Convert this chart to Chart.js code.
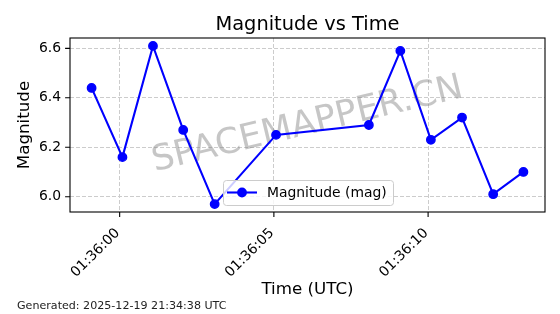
<!DOCTYPE html>
<html><head><meta charset="utf-8">
<script src="https://cdn.jsdelivr.net/npm/chart.js@4/dist/chart.umd.min.js"></script>
<style>html,body{margin:0;padding:0;background:#fff}#wrap{width:560px;height:314px;position:relative}canvas{display:block}</style>
</head><body><div id="wrap"><canvas id="c" width="560" height="314"></canvas></div>
<script>
// ---- data ----
const times = ['01:35:59.09','01:36:00.09','01:36:01.08','01:36:02.06','01:36:03.08','01:36:05.07',
               '01:36:08.08','01:36:09.10','01:36:10.09','01:36:11.10','01:36:12.11','01:36:13.09'];
const magnitudes = [6.44, 6.16, 6.61, 6.27, 5.97, 6.25, 6.29, 6.59, 6.23, 6.32, 6.01, 6.10];
const xTickLabels = ['01:36:00','01:36:05','01:36:10'];
const yTickLabels = ['6.0','6.2','6.4','6.6'];
const seriesLabel = 'Magnitude (mag)';
const chartTitle = 'Magnitude vs Time';
const xAxisTitle = 'Time (UTC)';
const yAxisTitle = 'Magnitude';
const footerText = 'Generated: 2025-12-19 21:34:38 UTC';
const watermarkText = 'SPACEMAPPER.CN';

// ---- helpers ----
function toSec(s){ const p = s.split(':'); return (+p[0])*3600 + (+p[1])*60 + (+p[2]); }
const xVals = times.map(toSec);
const xTickVals = xTickLabels.map(toSec);
const yTickVals = yTickLabels.map(Number);
const points = xVals.map((x,i)=>({x:x, y:magnitudes[i]}));
function margin(arr){ const lo=Math.min(...arr), hi=Math.max(...arr), d=(hi-lo)*0.05; return [lo-d, hi+d]; }
const [xMin,xMax] = margin(xVals);
const [yMin,yMax] = margin(magnitudes);

const FONT = '"DejaVu Sans", "Liberation Sans", sans-serif';
const BLUE = '#0000ff';

const decor = {
  id:'decor',
  beforeDatasetsDraw(chart){
    const {ctx, chartArea:a} = chart;
    ctx.save();
    ctx.translate((a.left+a.right)/2, (a.top+a.bottom)/2);
    ctx.rotate(-13.5*Math.PI/180);
    ctx.font = '35.5px ' + FONT;
    ctx.fillStyle = 'rgba(128,128,128,0.45)';
    ctx.textAlign = 'center';
    ctx.textBaseline = 'middle';
    ctx.fillText(watermarkText, 0, 0);
    ctx.restore();
  },
  afterDraw(chart){
    const {ctx, chartArea:a, scales} = chart;
    ctx.save();
    // frame
    ctx.strokeStyle = '#000'; ctx.lineWidth = 1.1;
    ctx.strokeRect(a.left, a.top, a.right-a.left, a.bottom-a.top);
    // tick marks
    ctx.beginPath();
    scales.x.ticks.forEach(t=>{ const px = scales.x.getPixelForValue(t.value); ctx.moveTo(px, a.bottom); ctx.lineTo(px, a.bottom+4.9); });
    scales.y.ticks.forEach(t=>{ const py = scales.y.getPixelForValue(t.value); ctx.moveTo(a.left-4.9, py); ctx.lineTo(a.left, py); });
    ctx.stroke();
    // title
    ctx.fillStyle = '#000';
    ctx.textAlign = 'center'; ctx.textBaseline = 'alphabetic';
    ctx.font = '19.4px ' + FONT;
    ctx.fillText(chartTitle, (a.left+a.right)/2, 30);
    // axis titles
    ctx.font = '16.7px ' + FONT;
    ctx.fillText(xAxisTitle, (a.left+a.right)/2, 294);
    ctx.save();
    ctx.translate(28.5, (a.top+a.bottom)/2);
    ctx.rotate(-Math.PI/2);
    ctx.fillText(yAxisTitle, 0, 0);
    ctx.restore();
    // footer
    ctx.textAlign = 'left';
    ctx.font = '11.1px ' + FONT;
    ctx.fillStyle = '#222';
    ctx.fillText(footerText, 17, 309);
    // legend
    const bx=223.5, by=180.5, bw=170, bh=25, r=3;
    ctx.beginPath();
    ctx.moveTo(bx+r,by); ctx.lineTo(bx+bw-r,by); ctx.quadraticCurveTo(bx+bw,by,bx+bw,by+r);
    ctx.lineTo(bx+bw,by+bh-r); ctx.quadraticCurveTo(bx+bw,by+bh,bx+bw-r,by+bh);
    ctx.lineTo(bx+r,by+bh); ctx.quadraticCurveTo(bx,by+bh,bx,by+bh-r);
    ctx.lineTo(bx,by+r); ctx.quadraticCurveTo(bx,by,bx+r,by); ctx.closePath();
    ctx.fillStyle = 'rgba(255,255,255,0.8)'; ctx.fill();
    ctx.strokeStyle = '#cccccc'; ctx.lineWidth = 1; ctx.stroke();
    const ds = chart.data.datasets[0];
    ctx.strokeStyle = ds.borderColor; ctx.lineWidth = ds.borderWidth;
    ctx.beginPath(); ctx.moveTo(227, 192.5); ctx.lineTo(257, 192.5); ctx.stroke();
    ctx.beginPath(); ctx.arc(242, 192.5, ds.pointRadius + ds.pointBorderWidth/2, 0, Math.PI*2);
    ctx.fillStyle = ds.pointBackgroundColor; ctx.fill();
    ctx.fillStyle = '#000'; ctx.font = '13.9px ' + FONT; ctx.textAlign='left';
    ctx.fillText(ds.label, 267, 196.5);
    ctx.restore();
  }
};

new Chart(document.getElementById('c'), {
  type:'line',
  data:{ datasets:[{
    label: seriesLabel, data: points,
    borderColor: BLUE, backgroundColor: BLUE, borderWidth: 2.1,
    pointRadius: 4.2, pointBorderWidth: 1.4, pointBackgroundColor: BLUE, pointBorderColor: BLUE,
    tension: 0, fill:false
  }]},
  options:{
    responsive:false, animation:false, devicePixelRatio:1,
    layout:{ padding:{ top:38, right:15, left:0, bottom:0 } },
    plugins:{ legend:{display:false}, tooltip:{enabled:false}, title:{display:false} },
    scales:{
      x:{ type:'linear', min:xMin, max:xMax,
        afterBuildTicks(s){ s.ticks = xTickVals.map(v=>({value:v})); },
        afterFit(s){ s.height = 102; },
        grid:{ color:'#cccccc', lineWidth:1, drawTicks:false },
        border:{ display:false, dash:[4,2] },
        ticks:{ autoSkip:false, minRotation:45, maxRotation:45, padding:13, labelOffset:-2, color:'#000',
          font:{ family:FONT, size:13.9 }, callback:(v,i)=>xTickLabels[i] }
      },
      y:{ type:'linear', min:yMin, max:yMax,
        afterBuildTicks(s){ s.ticks = yTickVals.map(v=>({value:v})); },
        afterFit(s){ s.width = 70; },
        grid:{ color:'#cccccc', lineWidth:1, drawTicks:false },
        border:{ display:false, dash:[4,2] },
        ticks:{ autoSkip:false, padding:9, color:'#000',
          font:{ family:FONT, size:13.9 }, callback:(v,i)=>yTickLabels[i] }
      }
    }
  },
  plugins:[decor]
});
</script></body></html>
